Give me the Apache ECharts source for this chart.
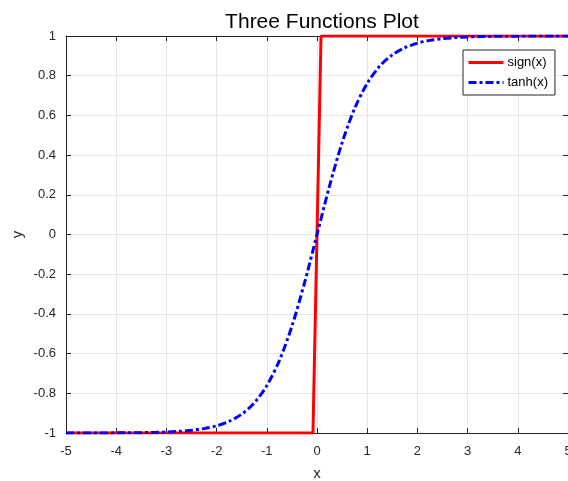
<!DOCTYPE html>
<html>
<head>
<meta charset="utf-8">
<script src="https://cdn.jsdelivr.net/npm/echarts@6/dist/echarts.min.js"></script>
<style>
  html, body { margin: 0; padding: 0; background: #fff; }
  #chart { width: 568px; height: 481px; }
</style>
</head>
<body>
<div id="chart"></div>
<script>
// sign(x): flat at -1, steep jump near 0, flat at 1
const signX = [-5, -0.08, 0.08, 5];
const signY = [-1, -1, 1, 1];

// tanh(x), step 0.25
const tanhX = [-5, -4.75, -4.5, -4.25, -4, -3.75, -3.5, -3.25, -3, -2.75, -2.5, -2.25, -2, -1.75, -1.5, -1.25, -1, -0.75, -0.5, -0.25,
               0, 0.25, 0.5, 0.75, 1, 1.25, 1.5, 1.75, 2, 2.25, 2.5, 2.75, 3, 3.25, 3.5, 3.75, 4, 4.25, 4.5, 4.75, 5];
const tanhY = [-0.9999, -0.9998, -0.9998, -0.9996, -0.9993, -0.9989, -0.9982, -0.997, -0.9951, -0.9918, -0.9866, -0.978, -0.964, -0.9411, -0.9051, -0.8483, -0.7616, -0.6351, -0.4621, -0.2449,
               0, 0.2449, 0.4621, 0.6351, 0.7616, 0.8483, 0.9051, 0.9411, 0.964, 0.978, 0.9866, 0.9918, 0.9951, 0.997, 0.9982, 0.9989, 0.9993, 0.9996, 0.9998, 0.9998, 0.9999];

const seriesNames = ['sign(x)', 'tanh(x)'];

const chart = echarts.init(document.getElementById('chart'));
const font = 'Liberation Sans, Arial, sans-serif';
const axisCol = '#262626';

function pairs(xs, ys) {
    return xs.map((x, i) => [x, ys[i]]);
}

const baseX = {
    type: 'value', min: -5, max: 5, interval: 1,
    axisLine: { show: true, onZero: false, lineStyle: { color: axisCol, width: 1 } },
    axisTick: { show: true, inside: true, length: 5, lineStyle: { color: axisCol } },
    axisLabel: { color: axisCol, fontFamily: font, fontSize: 13, margin: 12 },
    splitLine: { show: true, lineStyle: { color: '#e6e6e6', width: 1 } }
};
const baseY = {
    type: 'value', min: -1, max: 1, interval: 0.2,
    axisLine: { show: true, onZero: false, lineStyle: { color: axisCol, width: 1 } },
    axisTick: { show: true, inside: true, length: 5, lineStyle: { color: axisCol } },
    axisLabel: { color: axisCol, fontFamily: font, fontSize: 13, margin: 10,
        formatter: v => String(Math.round(v * 10) / 10) },
    splitLine: { show: true, lineStyle: { color: '#e6e6e6', width: 1 } }
};

chart.setOption({
    animation: false,
    title: {
        text: 'Three Functions Plot', left: 317, top: 7, textAlign: 'center',
        textStyle: { fontFamily: font, fontSize: 21, fontWeight: 'normal', color: '#000' }
    },
    legend: {
        data: seriesNames, orient: 'vertical', left: 463, top: 50,
        backgroundColor: '#fff', borderColor: axisCol, borderWidth: 1, borderRadius: 0,
        padding: [6, 7, 6, 4], itemGap: 7, itemWidth: 35, itemHeight: 10,
        itemStyle: { opacity: 0 }, lineStyle: { width: 3 },
        textStyle: { fontFamily: font, fontSize: 13, color: '#000', padding: [0, 0, 0, -1] }
    },
    grid: { left: 66, right: 0, top: 36, bottom: 48, outerBoundsMode: 'none', containLabel: false },
    xAxis: [
        Object.assign({}, baseX, { position: 'bottom', name: 'x', nameLocation: 'middle', nameGap: 33,
            nameMoveOverlap: false,
            nameTextStyle: { fontFamily: font, fontSize: 15, color: axisCol } }),
        Object.assign({}, baseX, { position: 'top', axisLabel: { show: false }, splitLine: { show: false } })
    ],
    yAxis: [
        Object.assign({}, baseY, { position: 'left', name: 'y', nameLocation: 'middle', nameGap: 41,
            nameMoveOverlap: false,
            nameTextStyle: { fontFamily: font, fontSize: 15, color: axisCol } }),
        Object.assign({}, baseY, { position: 'right', axisLabel: { show: false }, splitLine: { show: false } })
    ],
    series: [
        {
            name: seriesNames[0], type: 'line', data: pairs(signX, signY),
            symbol: 'none', lineStyle: { color: '#ff0000', width: 3 }, itemStyle: { color: '#ff0000' }
        },
        {
            name: seriesNames[1], type: 'line', data: pairs(tanhX, tanhY),
            symbol: 'none', smooth: 0.3,
            lineStyle: { color: '#0000ff', width: 3, type: [8, 3, 3, 3] }, itemStyle: { color: '#0000ff' }
        }
    ]
});
</script>
</body>
</html>
